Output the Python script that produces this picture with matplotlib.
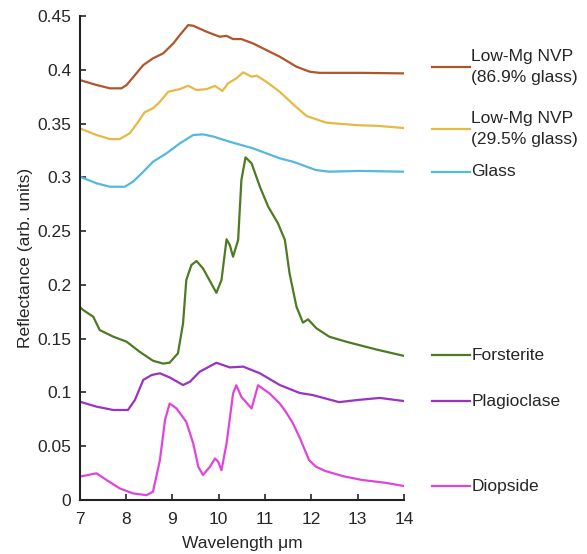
import numpy as np
import matplotlib.pyplot as plt

plt.rcParams['font.family'] = ['Liberation Sans', 'DejaVu Sans']

x_nvp869 = [7.0, 7.36, 7.65, 7.9, 8.01, 8.19, 8.37, 8.58, 8.8, 9.02, 9.16, 9.34, 9.45, 9.74, 10.02, 10.17, 10.31,
            10.49, 10.74, 11.03, 11.32, 11.68, 11.97, 12.18, 13.05, 14.0]
y_nvp869 = [0.3905, 0.3859, 0.3828, 0.3828, 0.3859, 0.3951, 0.4044, 0.4107, 0.4153, 0.4246, 0.4323, 0.4416, 0.441,
            0.4354, 0.4308, 0.4316, 0.4286, 0.4286, 0.4246, 0.4184, 0.4122, 0.4029, 0.3982, 0.3972, 0.3972, 0.3967]

x_nvp295 = [7.0, 7.36, 7.65, 7.86, 8.08, 8.26, 8.4, 8.58, 8.73, 8.91, 9.16, 9.34, 9.52, 9.74, 9.92, 10.08, 10.2,
            10.38, 10.53, 10.71, 10.82, 11.03, 11.32, 11.61, 11.9, 12.33, 13.05, 13.41, 14.0]
y_nvp295 = [0.3456, 0.3394, 0.3356, 0.3356, 0.341, 0.3517, 0.3605, 0.3642, 0.3703, 0.3796, 0.3821, 0.3852, 0.3812,
            0.3821, 0.385, 0.3803, 0.3874, 0.3921, 0.3977, 0.3936, 0.3946, 0.3889, 0.3796, 0.3679, 0.357, 0.3508,
            0.3484, 0.348, 0.3459]

x_glass = [7.0, 7.36, 7.65, 7.97, 8.15, 8.37, 8.58, 8.87, 9.16, 9.45, 9.66, 9.88, 10.24, 10.74, 11.32, 11.61,
           12.1, 12.39, 13.05, 14.0]
y_glass = [0.3006, 0.2945, 0.2913, 0.2913, 0.296, 0.3052, 0.3145, 0.3223, 0.3316, 0.3394, 0.340, 0.338, 0.3331,
           0.327, 0.3177, 0.3145, 0.3068, 0.3053, 0.306, 0.3053]

x_fo = [7.0, 7.07, 7.29, 7.43, 7.72, 8.01, 8.3, 8.58, 8.8, 8.94, 9.12, 9.23, 9.3, 9.41, 9.52, 9.66, 9.95, 10.06,
        10.17, 10.24, 10.31, 10.42, 10.49, 10.58, 10.71, 10.89, 11.07, 11.28, 11.43, 11.53, 11.68, 11.82, 11.93,
        12.11, 12.39, 12.77, 13.4, 14.0]
y_fo = [0.1795, 0.1767, 0.1704, 0.158, 0.1519, 0.1472, 0.1376, 0.1295, 0.1268, 0.1277, 0.1364, 0.1643, 0.2045,
        0.2185, 0.2222, 0.2154, 0.1927, 0.2045, 0.2424, 0.2371, 0.2262, 0.2418, 0.2975, 0.3186, 0.3131, 0.2913,
        0.2727, 0.2573, 0.2418, 0.2108, 0.1798, 0.1649, 0.168, 0.1597, 0.1518, 0.147, 0.140, 0.134]

x_plag = [7.0, 7.36, 7.72, 8.04, 8.19, 8.37, 8.55, 8.73, 8.94, 9.23, 9.38, 9.59, 9.95, 10.24, 10.53, 10.89, 11.32,
          11.75, 12.03, 12.6, 13.0, 13.48, 14.0]
y_plag = [0.0914, 0.0868, 0.0837, 0.0837, 0.093, 0.1116, 0.1162, 0.1178, 0.114, 0.1069, 0.110, 0.1193, 0.1276,
          0.1233, 0.124, 0.1178, 0.1069, 0.0995, 0.0976, 0.091, 0.093, 0.0949, 0.092]

x_diop = [7.0, 7.18, 7.36, 7.58, 7.86, 8.15, 8.44, 8.58, 8.73, 8.84, 8.94, 9.09, 9.3, 9.45, 9.56, 9.66, 9.81, 9.92,
          9.99, 10.06, 10.17, 10.31, 10.38, 10.49, 10.71, 10.85, 11.1, 11.32, 11.45, 11.6, 11.75, 11.95, 12.1, 12.3,
          12.7, 13.1, 13.6, 14.0]
y_diop = [0.0217, 0.0233, 0.0248, 0.0185, 0.0108, 0.0061, 0.0045, 0.0076, 0.0371, 0.0742, 0.0897, 0.0851, 0.0726,
          0.0525, 0.0308, 0.0233, 0.0308, 0.0386, 0.0355, 0.0277, 0.0525, 0.099, 0.1067, 0.0959, 0.0851, 0.1067,
          0.099, 0.0897, 0.082, 0.0716, 0.058, 0.0372, 0.031, 0.027, 0.022, 0.0186, 0.016, 0.013]

names = ['Low-Mg NVP\n(86.9% glass)', 'Low-Mg NVP\n(29.5% glass)', 'Glass', 'Forsterite', 'Plagioclase', 'Diopside']
colors = ['#b0552b', '#e6b945', '#55b8dc', '#4e7a23', '#9a33c2', '#dd45dd']
label_y = [0.4026, 0.345, 0.305, 0.1348, 0.092, 0.013]
xs_all = [x_nvp869, x_nvp295, x_glass, x_fo, x_plag, x_diop]
ys_all = [y_nvp869, y_nvp295, y_glass, y_fo, y_plag, y_diop]

fig = plt.figure(figsize=(5.87, 5.54), dpi=100)
ax = fig.add_axes([0.136, 0.0975, 0.552, 0.8735])

txt = '#262626'
for xs, ys, c, name, ylab in zip(xs_all, ys_all, colors, names, label_y):
    ax.plot(xs, ys, color=c, lw=1.6)
    ax.plot([1.086, 1.204], [ylab, ylab], color=c, lw=1.6,
            transform=ax.get_yaxis_transform(), clip_on=False)
    ax.text(1.208, ylab, name, transform=ax.get_yaxis_transform(),
            ha='left', va='center', fontsize=12.5, color=txt, linespacing=1.45)

ax.set_xlim(7, 14)
ax.set_ylim(0, 0.45)
ax.set_xticks(range(7, 15))
ax.set_yticks([0, 0.05, 0.1, 0.15, 0.2, 0.25, 0.3, 0.35, 0.4, 0.45])
ax.set_yticklabels(['0', '0.05', '0.1', '0.15', '0.2', '0.25', '0.3', '0.35', '0.4', '0.45'])
for s in ['top', 'right']:
    ax.spines[s].set_visible(False)
for s in ['left', 'bottom']:
    ax.spines[s].set_linewidth(1.5)
    ax.spines[s].set_color('#222222')
ax.tick_params(direction='in', length=4, width=1.2, labelsize=12.5, colors=txt, pad=6)
ax.tick_params(axis='x', pad=9)
ax.set_xlabel('Wavelength μm', fontsize=12.5, color=txt, labelpad=6)
ax.set_ylabel('Reflectance (arb. units)', fontsize=12.5, color=txt)
ax.yaxis.set_label_coords(-0.145, 0.5)

plt.savefig('out.png', dpi=100)
